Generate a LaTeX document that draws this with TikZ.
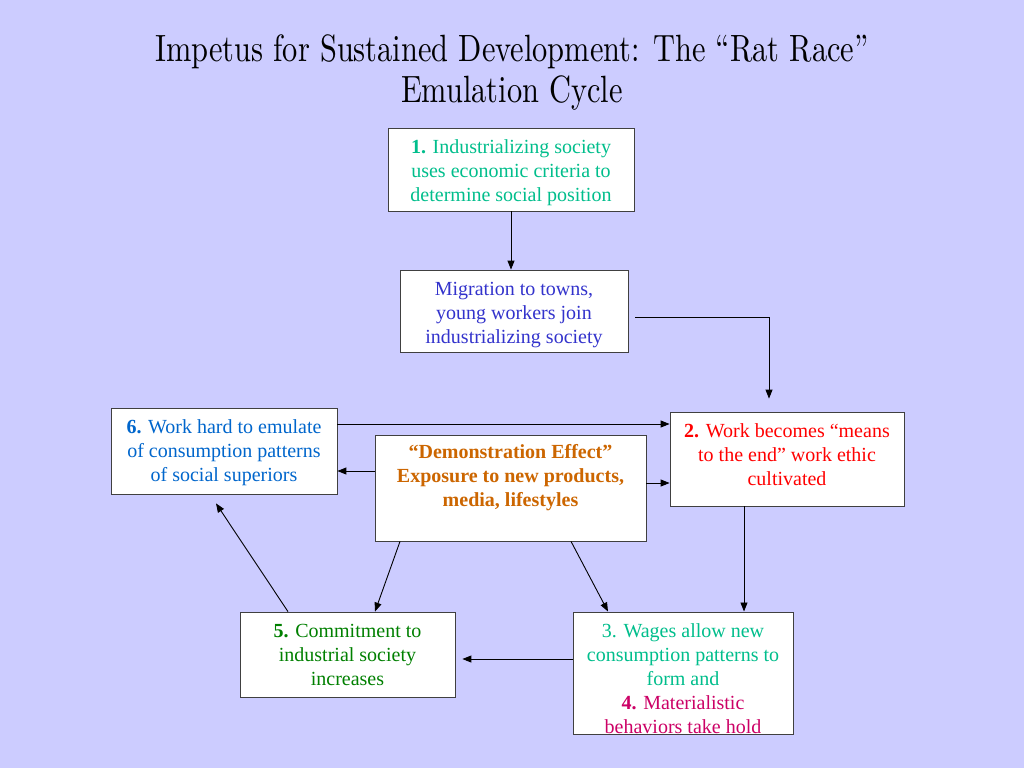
\documentclass[tikz,border=0pt]{standalone}
\usepackage{fontspec}
\usepackage{graphicx}
\usepackage{tikz}
\usetikzlibrary{arrows.meta}
\newfontfamily\boxfont{Liberation Serif}
\newfontfamily\titlefont{lmroman10-regular}[Extension=.otf]
\definecolor{slidebg}{RGB}{204,204,255}
\definecolor{tealtext}{RGB}{0,190,140}
\definecolor{migtext}{RGB}{51,51,204}
\definecolor{bluetext}{RGB}{0,102,204}
\definecolor{demotext}{RGB}{204,102,0}
\definecolor{greentext}{RGB}{0,128,0}
\definecolor{magtext}{RGB}{204,0,102}
% struts to nudge the text inside a box
\newcommand{\padtop}[1]{\rule{0pt}{#1}}
\newcommand{\padbot}[1]{\rule[-#1]{0pt}{0pt}}

\begin{document}
\begin{tikzpicture}[x=1pt, y=-1pt,
	box/.style={draw=black!75, line width=0.8pt, fill=white, align=center, inner sep=0pt, font=\boxfont\fontsize{20}{24}\selectfont},
	link/.style={-{Triangle[length=9pt,width=7pt]}, line width=0.9pt}]
\useasboundingbox (0,0) rectangle (1024,768);
\fill[slidebg] (0,0) rectangle (1024,768);

% title
\node[font=\titlefont\fontsize{38}{40}\selectfont, anchor=base] (titleone) at (512,62) {\scalebox{0.8}[1]{Impetus for Sustained Development: The “Rat Race”}};
\node[font=\titlefont\fontsize{38}{40}\selectfont, anchor=base] (titletwo) at (512,102) {\scalebox{0.8}[1]{Emulation Cycle}};

% boxes
\node[box, minimum width=246pt, minimum height=83pt, text=tealtext] (industry) at (511,169.5) {\padtop{20pt}\textbf{1.} Industrializing society\\uses economic criteria to\\determine social position};
\node[box, minimum width=228pt, minimum height=82pt, text=migtext] (migration) at (514,311) {\padtop{21pt}Migration to towns,\\young workers join\\industrializing society};
\node[box, minimum width=226pt, minimum height=86pt, text=bluetext] (emulate) at (224,451) {\padtop{18pt}\textbf{6.} Work hard to emulate\\of consumption patterns\\of social superiors};
\node[box, minimum width=271pt, minimum height=106pt] (demo) at (510.5,488) {};
\node[font=\boxfont\bfseries\fontsize{20}{24}\selectfont, text=demotext, align=center, inner sep=0pt] (demolabel) at (510.5,478) {“Demonstration Effect”\\Exposure to new products,\\media, lifestyles};
\node[box, minimum width=234pt, minimum height=94pt, text=red] (means) at (787,459) {\textbf{2.} Work becomes “means\\to the end” work ethic\\cultivated\padbot{8pt}};
\node[box, minimum width=215pt, minimum height=85pt, text=greentext] (commit) at (347.5,654.5) {\textbf{5.} Commitment to\\industrial society\\increases};
\node[box, minimum width=220pt, minimum height=122pt, text=tealtext] (wages) at (683,673) {\padtop{26pt}3. Wages allow new\\consumption patterns to\\form and\\\textcolor{magtext}{\textbf{4.} Materialistic}\\\textcolor{magtext}{behaviors take hold}};

% connectors
\coordinate (turn) at (769,317);
\draw[link] (industry.south) -- (industry.south |- migration.north);
\draw[link, shorten >=13pt] ([shift={(7,6)}]migration.east) -- (turn) -- (turn |- means.north);
\draw[link] ([yshift=27pt]emulate.east) -- ([yshift=27pt]emulate.east -| means.west);
\draw[link] ([yshift=17pt]demo.west) -- ([yshift=17pt]demo.west -| emulate.east);
\draw[link] ([yshift=5pt]demo.east) -- ([yshift=5pt]demo.east -| means.west);
\draw[link] ([xshift=-43pt]means.south) -- ([xshift=-43pt]means.south |- wages.north);
\draw[link] ([xshift=-110.5pt]demo.south) -- ([xshift=27.5pt]commit.north);
\draw[link] ([xshift=60.5pt]demo.south) -- ([xshift=-75pt]wages.north);
\draw[link, shorten >=7pt] ([yshift=14pt]wages.west) -- ([yshift=14pt]wages.west -| commit.east);
\draw[link] ([xshift=-59.5pt]commit.north) -- ([xshift=-8pt,yshift=-9pt]emulate.south);
\end{tikzpicture}
\end{document}
